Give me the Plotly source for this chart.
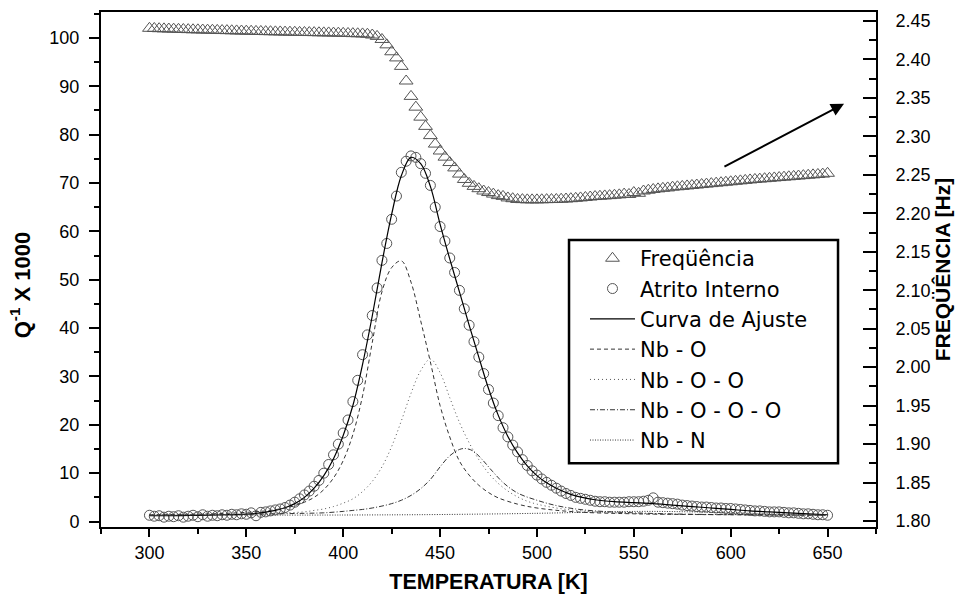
import plotly.graph_objects as go

# ---------------- data ----------------
# temperature grid of the measured points (K)
T_MEAS = [300 + 2.5 * i for i in range(141)]

# internal friction Q^-1 x 1000 (circles)
Q_ATRITO = [
    1.3, 1.1, 1.2, 0.9, 1.1, 1.0, 1.2, 0.9, 1.1, 1.3,
    1.0, 1.4, 1.1, 1.3, 1.2, 1.4, 1.3, 1.5, 1.4, 1.6,
    1.5, 1.8, 1.2, 1.9, 2.0, 2.2, 2.4, 2.6, 2.9, 3.4,
    4.0, 4.7, 5.5, 6.3, 7.3, 8.5, 10.0, 11.8, 13.8, 16.0,
    18.3, 21.0, 24.8, 29.2, 34.5, 38.6, 42.6, 48.3, 54.0, 57.5,
    62.5, 67.3, 72.2, 74.5, 75.6, 75.3, 74.0, 72.0, 69.5, 65.0,
    61.0, 58.0, 54.5, 51.5, 47.8, 44.0, 40.6, 37.2, 34.0, 30.6,
    27.3, 24.5, 21.9, 19.4, 17.5, 15.8, 14.4, 12.8, 11.6, 10.5,
    9.6, 8.8, 8.1, 7.5, 6.9, 6.3, 5.8, 5.4, 5.0, 4.8,
    4.6, 4.4, 4.2, 4.1, 4.1, 4.0, 4.0, 4.0, 4.0, 4.1,
    4.1, 4.1, 4.2, 4.4, 4.9, 4.0, 3.9, 3.8, 3.7, 3.6,
    3.4, 3.3, 3.2, 3.1, 3.0, 3.0, 2.9, 2.8, 2.8, 2.7,
    2.7, 2.6, 2.5, 2.4, 2.3, 2.2, 2.2, 2.1, 2.0, 2.0,
    2.0, 1.9, 1.8, 1.8, 1.7, 1.6, 1.6, 1.5, 1.4, 1.4,
    1.3,
]

# frequency (Hz) (triangles, right axis)
FREQ = [
    2.4405, 2.4403, 2.4400, 2.4398, 2.4396, 2.4394, 2.4392, 2.4390, 2.4388, 2.4386,
    2.4385, 2.4383, 2.4381, 2.4380, 2.4378, 2.4376, 2.4375, 2.4373, 2.4371, 2.4370,
    2.4368, 2.4367, 2.4365, 2.4364, 2.4362, 2.4361, 2.4359, 2.4358, 2.4356, 2.4355,
    2.4354, 2.4352, 2.4351, 2.4350, 2.4349, 2.4347, 2.4346, 2.4345, 2.4343, 2.4342,
    2.4340, 2.4338, 2.4336, 2.4334, 2.4332, 2.4328, 2.4318, 2.4300, 2.4260, 2.4190,
    2.4100, 2.4020, 2.3910, 2.3720, 2.3520, 2.3380, 2.3250, 2.3130, 2.3010, 2.2900,
    2.2810, 2.2730, 2.2660, 2.2590, 2.2510, 2.2440, 2.2390, 2.2350, 2.2320, 2.2290,
    2.2270, 2.2250, 2.2230, 2.2220, 2.2200, 2.2190, 2.2180, 2.2178, 2.2175, 2.2175,
    2.2175, 2.2176, 2.2178, 2.2179, 2.2180, 2.2183, 2.2186, 2.2190, 2.2195, 2.2200,
    2.2206, 2.2212, 2.2218, 2.2222, 2.2226, 2.2230, 2.2235, 2.2240, 2.2250, 2.2245,
    2.2270, 2.2260, 2.2290, 2.2300, 2.2310, 2.2318, 2.2325, 2.2330, 2.2340, 2.2345,
    2.2350, 2.2356, 2.2362, 2.2368, 2.2374, 2.2380, 2.2386, 2.2392, 2.2398, 2.2404,
    2.2410, 2.2416, 2.2422, 2.2428, 2.2434, 2.2440, 2.2445, 2.2450, 2.2455, 2.2460,
    2.2465, 2.2470, 2.2475, 2.2480, 2.2485, 2.2490, 2.2495, 2.2500, 2.2505, 2.2510,
    2.2520,
]

# fit curve (Curva de Ajuste)
T_FIT = [300, 310, 320, 330, 340, 350, 355, 360, 365, 370, 375, 380, 385, 390, 395,
         400, 405, 410, 415, 420, 425, 430, 435, 440, 445, 450, 455, 460, 465, 470,
         475, 480, 485, 490, 495, 500, 505, 510, 515, 520, 530, 540, 550, 560, 570,
         580, 590, 600, 610, 620, 630, 640, 650]
Q_FIT = [1.2, 1.2, 1.25, 1.3, 1.4, 1.55, 1.7, 1.95, 2.3, 2.85, 3.7, 5.0, 6.9, 9.5, 13.0,
         17.8, 24.0, 32.5, 42.5, 53.5, 63.5, 71.5, 75.3, 74.0, 69.3, 61.5, 54.3, 47.5, 40.6, 34.0,
         27.5, 22.0, 17.6, 14.2, 11.5, 9.5, 8.0, 6.9, 6.0, 5.3, 4.5, 4.1, 3.9, 3.7, 3.4,
         3.1, 2.8, 2.5, 2.2, 2.0, 1.8, 1.6, 1.4]

# Nb - O component
T_NBO = [300, 320, 340, 360, 370, 375, 380, 385, 390, 395, 400, 405, 410, 415, 420, 425,
         430, 435, 440, 445, 450, 455, 460, 465, 470, 475, 480, 490, 500, 520, 550, 600, 650]
Q_NBO = [1.4, 1.5, 1.7, 2.2, 2.8, 3.3, 4.0, 5.0, 6.6, 9.0, 12.6, 18.0, 26.0, 37.0, 47.5, 52.5,
         53.9, 49.5, 41.5, 33.0, 24.0, 17.5, 12.5, 9.6, 7.5, 6.0, 4.9, 3.6, 2.8, 2.0, 1.6, 1.4, 1.3]

# Nb - O - O component
T_NBOO = [300, 340, 370, 380, 385, 390, 395, 400, 405, 410, 415, 420, 425, 430, 435, 440,
          445, 450, 455, 460, 465, 470, 475, 480, 485, 490, 495, 500, 510, 520, 540, 570, 610, 650]
Q_NBOO = [1.3, 1.5, 1.8, 2.0, 2.3, 2.6, 3.1, 3.8, 4.7, 6.2, 8.3, 11.3, 15.5, 20.8, 26.5, 31.2,
          33.6, 30.8, 25.6, 20.5, 16.3, 12.8, 10.0, 7.9, 6.3, 5.1, 4.2, 3.6, 2.8, 2.3, 1.8, 1.5, 1.4, 1.3]

# Nb - O - O - O component
T_NBOOO = [300, 350, 380, 390, 400, 405, 410, 415, 420, 425, 430, 435, 440, 445, 450, 455,
           460, 463, 467, 472, 477, 483, 490, 500, 510, 520, 530, 550, 580, 620, 650]
Q_NBOOO = [1.3, 1.5, 1.7, 1.8, 2.1, 2.3, 2.5, 2.8, 3.2, 3.7, 4.4, 5.4, 6.8, 8.7, 11.3, 13.6,
           14.9, 15.1, 14.6, 12.7, 10.4, 7.9, 5.9, 4.4, 3.3, 2.6, 2.2, 1.8, 1.5, 1.4, 1.3]

# Nb - N component
T_NBN = [300, 400, 450, 500, 530, 555, 580, 610, 650]
Q_NBN = [1.3, 1.35, 1.45, 1.7, 1.95, 2.1, 2.0, 1.7, 1.4]

# arrow pointing to the frequency axis (tail -> head), in data units (x, right axis)
ARROW_TAIL = (596, 2.2596)
ARROW_HEAD = (658.5, 2.3425)

X_TICKS = [300, 350, 400, 450, 500, 550, 600, 650]
Y_TICKS = [0, 10, 20, 30, 40, 50, 60, 70, 80, 90, 100]
Y2_TICKS = [1.80, 1.85, 1.90, 1.95, 2.00, 2.05, 2.10, 2.15, 2.20, 2.25, 2.30, 2.35, 2.40, 2.45]

FONT = "Liberation Sans, Arial, sans-serif"
LEG_FONT = "DejaVu Sans, Liberation Sans, sans-serif"
MARK_COL = "#555555"

fig = go.Figure()

fig.add_trace(go.Scatter(
    x=T_MEAS, y=FREQ, yaxis="y2", mode="markers", name="Freqüência",
    marker=dict(symbol="triangle-up-open", size=12, color=MARK_COL, line=dict(width=1, color=MARK_COL)),
))
fig.add_trace(go.Scatter(
    x=T_MEAS, y=Q_ATRITO, mode="markers", name="Atrito Interno",
    marker=dict(symbol="circle-open", size=10, color=MARK_COL, line=dict(width=1, color=MARK_COL)),
))
fig.add_trace(go.Scatter(
    x=T_FIT, y=Q_FIT, mode="lines", name="Curva de Ajuste",
    line=dict(color="black", width=1.2, shape="spline"),
))
fig.add_trace(go.Scatter(
    x=T_NBO, y=Q_NBO, mode="lines", name="Nb - O",
    line=dict(color="#333333", width=1, dash="4px,3px", shape="spline"),
))
fig.add_trace(go.Scatter(
    x=T_NBOO, y=Q_NBOO, mode="lines", name="Nb - O - O",
    line=dict(color="#555555", width=1, dash="1px,3px", shape="spline"),
))
fig.add_trace(go.Scatter(
    x=T_NBOOO, y=Q_NBOOO, mode="lines", name="Nb - O - O - O",
    line=dict(color="#333333", width=1, dash="5px,2px,1px,2px", shape="spline"),
))
fig.add_trace(go.Scatter(
    x=T_NBN, y=Q_NBN, mode="lines", name="Nb - N",
    line=dict(color="#333333", width=1, dash="1px,1.5px", shape="spline"),
))

fig.add_annotation(
    x=ARROW_HEAD[0], y=ARROW_HEAD[1], ax=ARROW_TAIL[0], ay=ARROW_TAIL[1],
    xref="x", yref="y2", axref="x", ayref="y2",
    text="", showarrow=True, arrowhead=2, arrowsize=1.3, arrowwidth=2, arrowcolor="black",
)

# left axis title (placed like the original, slightly below centre)
fig.add_annotation(
    xref="paper", yref="paper", x=-0.104, y=0.47, xanchor="center", yanchor="middle",
    text="<b>Q<sup>-1</sup> X 1000</b>", textangle=-90, showarrow=False,
    font=dict(family=FONT, size=22, color="black"),
)

# legend frame
fig.add_shape(
    type="rect", xref="paper", yref="paper", x0=0.6039, x1=0.9510, y0=0.1238, y1=0.5571,
    line=dict(color="black", width=2.5), fillcolor="white", layer="above",
)

axis_common = dict(
    showgrid=False, zeroline=False, showline=True, linecolor="black", linewidth=2,
    tickwidth=1.5, tickcolor="black",
    tickfont=dict(family=FONT, size=18, color="black"),
)

fig.update_layout(
    width=973, height=605,
    margin=dict(l=101, r=97, t=10, b=78),
    paper_bgcolor="white", plot_bgcolor="white",
    font=dict(family=FONT, color="black"),
    xaxis=dict(
        **axis_common, range=[275, 675], tickvals=X_TICKS, mirror=True,
        ticks="outside", ticklen=8,
        minor=dict(ticks="outside", ticklen=5, tickwidth=1.5, tickcolor="black", dtick=25, tick0=275),
        title=dict(text="<b>TEMPERATURA [K]</b>", font=dict(family=FONT, size=21.5, color="black"), standoff=12),
    ),
    yaxis=dict(
        **axis_common, range=[-1.13, 105.36], tickvals=Y_TICKS,
        ticks="outside", ticklen=10, ticklabelstandoff=6,
        minor=dict(ticks="outside", ticklen=5, tickwidth=1.5, tickcolor="black", dtick=5, tick0=0),
    ),
    yaxis2=dict(
        **axis_common, overlaying="y", side="right", range=[1.7922, 2.4617],
        tickvals=Y2_TICKS, tickformat=".2f",
        ticks="inside", ticklen=13, ticklabelstandoff=14,
        minor=dict(ticks="inside", ticklen=7, tickwidth=1.5, tickcolor="black", dtick=0.025, tick0=1.8),
        title=dict(text="<b>FREQÜÊNCIA [Hz]</b>", font=dict(family=FONT, size=21, color="black"), standoff=6),
    ),
    legend=dict(
        x=0.6245, y=0.561, xanchor="left", yanchor="top",
        bgcolor="rgba(0,0,0,0)", borderwidth=0,
        font=dict(family=LEG_FONT, size=21, color="black"),
        itemwidth=45, traceorder="normal",
    ),
    showlegend=True,
)

fig.write_html("out.html")
